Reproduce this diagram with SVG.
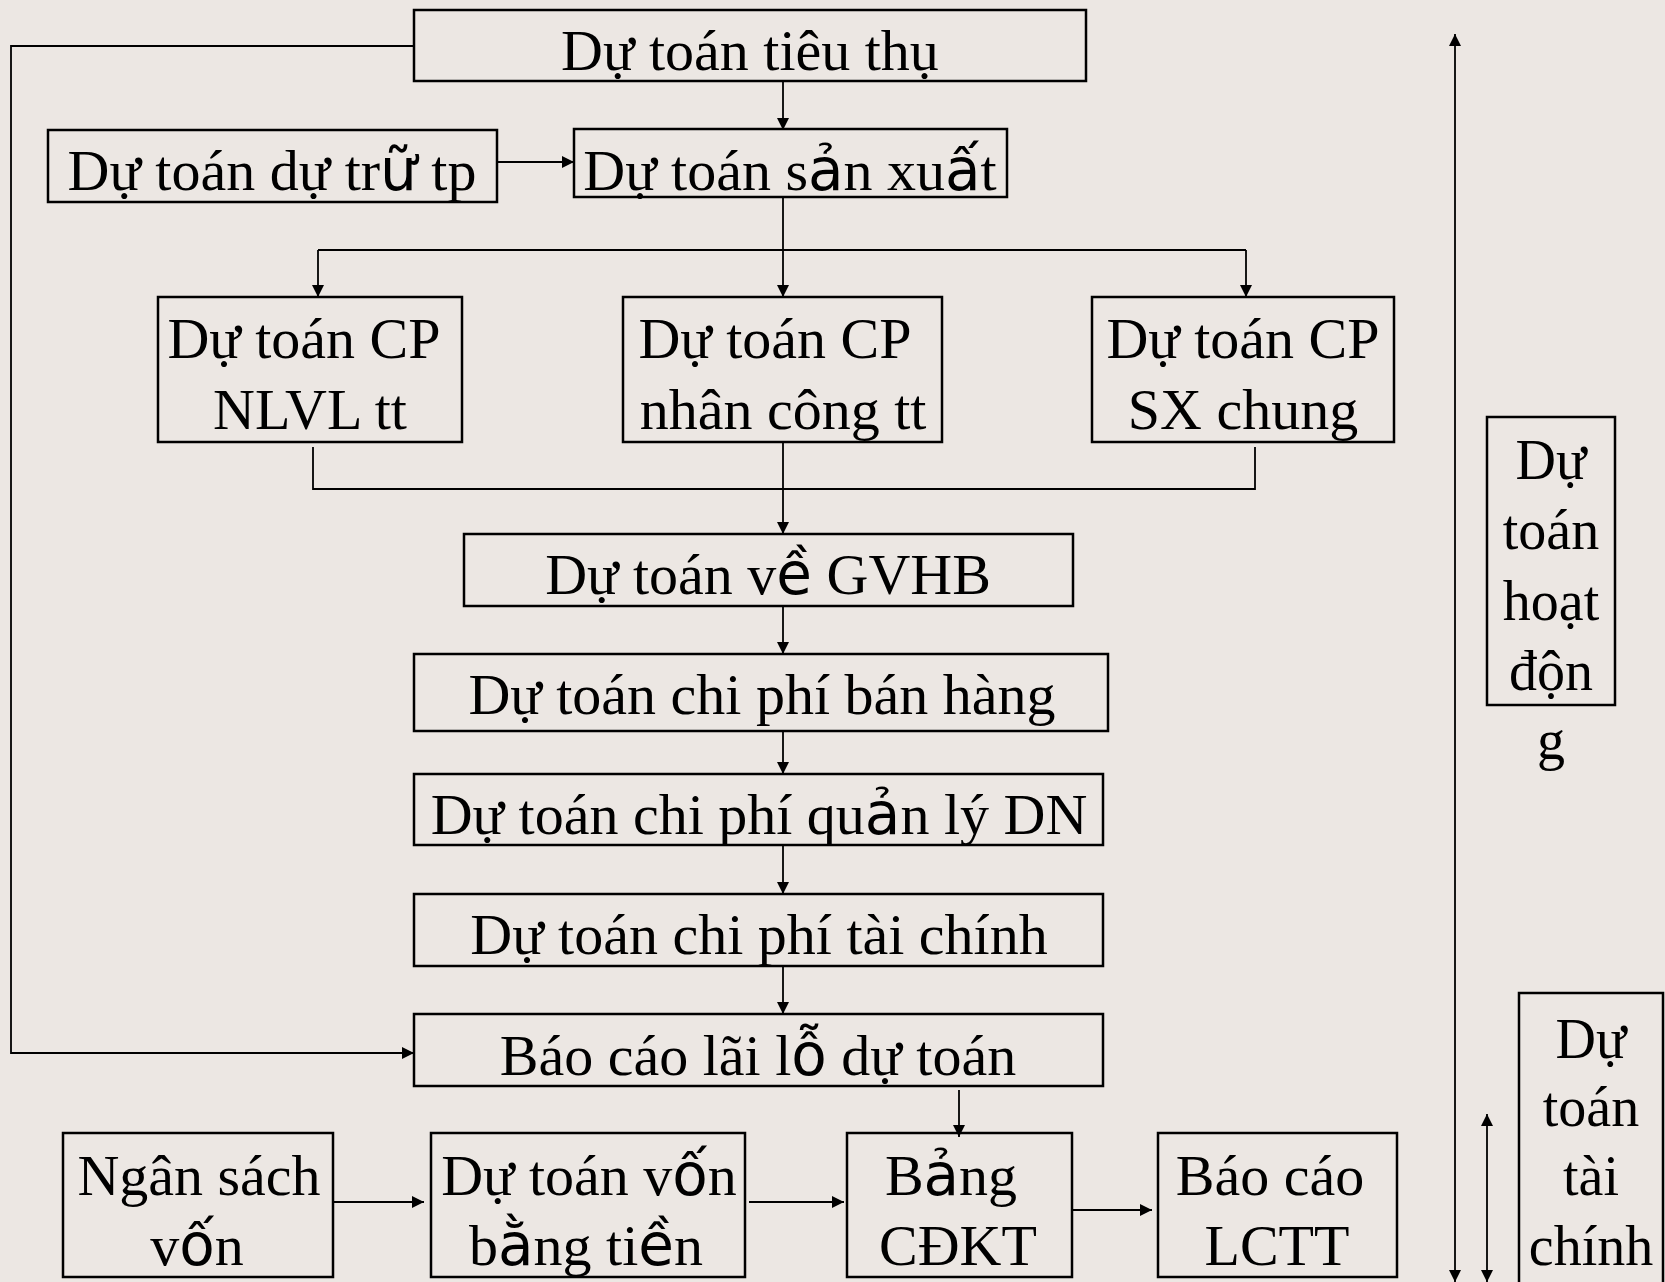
<svg xmlns="http://www.w3.org/2000/svg" width="1665" height="1282" viewBox="0 0 1665 1282">
<style>
.bg{fill:#ECE7E3}
.box{fill:none;stroke:#000;stroke-width:2.5}
.t{font-family:"Liberation Serif","Times New Roman",serif;font-size:58px;fill:#000;text-anchor:middle}
.ts{font-family:"Liberation Serif","Times New Roman",serif;font-size:56px;fill:#000;text-anchor:middle}
.s{font-family:"DejaVu Sans",sans-serif}
.c{fill:none;stroke:#000;stroke-width:1.8}
</style>
<defs>
<marker id="ah" markerWidth="12" markerHeight="12" refX="12" refY="6" orient="auto-start-reverse" markerUnits="userSpaceOnUse">
<path d="M0,0 L12,6 L0,12 z" fill="#000"/>
</marker>
</defs>
<rect class="bg" x="0" y="0" width="1665" height="1282"/>

<g id="connectors">
<path class="c" d="M414,46 H11 V1053 H414" marker-end="url(#ah)"/>
<path class="c" d="M783,81 V130" marker-end="url(#ah)"/>
<path class="c" d="M497,162 H574" marker-end="url(#ah)"/>
<path class="c" d="M783,198 V297" marker-end="url(#ah)"/>
<path class="c" d="M318,250 H1246"/>
<path class="c" d="M318,250 V297" marker-end="url(#ah)"/>
<path class="c" d="M1246,250 V297" marker-end="url(#ah)"/>
<path class="c" d="M313,447 V489 H1255 V447"/>
<path class="c" d="M783,442 V534" marker-end="url(#ah)"/>
<path class="c" d="M783,606 V654" marker-end="url(#ah)"/>
<path class="c" d="M783,731 V774" marker-end="url(#ah)"/>
<path class="c" d="M783,845 V894" marker-end="url(#ah)"/>
<path class="c" d="M783,966 V1014" marker-end="url(#ah)"/>
<path class="c" d="M959,1090 V1137" marker-end="url(#ah)"/>
<path class="c" d="M333,1202 H424" marker-end="url(#ah)"/>
<path class="c" d="M749,1202 H844" marker-end="url(#ah)"/>
<path class="c" d="M1072,1210 H1152" marker-end="url(#ah)"/>
<path class="c" d="M1455,34 V1282" stroke-width="2.5" marker-start="url(#ah)" marker-end="url(#ah)"/>
<path class="c" d="M1487,1114 V1282" stroke-width="2.5" marker-start="url(#ah)" marker-end="url(#ah)"/>
</g>

<g id="n-tieuthu"><rect class="box" x="414" y="10" width="672" height="71"/><text class="t" x="750" y="70">Dự toán tiêu thụ</text></g>
<g id="n-dutru"><rect class="box" x="48" y="130" width="449" height="72"/><text class="t" x="272" y="190">Dự toán dự tr<tspan class="s">ữ</tspan> tp</text></g>
<g id="n-sanxuat"><rect class="box" x="574" y="129" width="433" height="68"/><text class="t" x="790" y="190">Dự toán s<tspan class="s">ả</tspan>n xu<tspan class="s">ấ</tspan>t</text></g>
<g id="n-nlvl"><rect class="box" x="158" y="297" width="304" height="145"/><text class="t" x="304" y="358">Dự toán CP</text><text class="t" x="310" y="429">NLVL tt</text></g>
<g id="n-nhancong"><rect class="box" x="623" y="297" width="319" height="145"/><text class="t" x="775" y="358">Dự toán CP</text><text class="t" x="783" y="429">nhân công tt</text></g>
<g id="n-sxchung"><rect class="box" x="1092" y="297" width="302" height="145"/><text class="t" x="1243" y="358">Dự toán CP</text><text class="t" x="1243" y="429">SX chung</text></g>
<g id="n-gvhb"><rect class="box" x="464" y="534" width="609" height="72"/><text class="t" x="768" y="594">Dự toán v<tspan class="s">ề</tspan> GVHB</text></g>
<g id="n-banhang"><rect class="box" x="414" y="654" width="694" height="77"/><text class="t" x="762" y="714">Dự toán chi phí bán hàng</text></g>
<g id="n-quanly"><rect class="box" x="414" y="774" width="689" height="71"/><text class="t" x="759" y="834">Dự toán chi phí qu<tspan class="s">ả</tspan>n lý DN</text></g>
<g id="n-taichinh"><rect class="box" x="414" y="894" width="689" height="72"/><text class="t" x="759" y="954">Dự toán chi phí tài chính</text></g>
<g id="n-laiLo"><rect class="box" x="414" y="1014" width="689" height="72"/><text class="t" x="758" y="1075">Báo cáo lãi l<tspan class="s">ỗ</tspan> dự toán</text></g>
<g id="n-ngansach"><rect class="box" x="63" y="1133" width="270" height="144"/><text class="t" x="199" y="1195">Ngân sách</text><text class="t" x="197" y="1265">v<tspan class="s">ố</tspan>n</text></g>
<g id="n-vonbangtien"><rect class="box" x="431" y="1133" width="314" height="144"/><text class="t" x="589" y="1195">Dự toán v<tspan class="s">ố</tspan>n</text><text class="t" x="586" y="1265">b<tspan class="s">ằ</tspan>ng ti<tspan class="s">ề</tspan>n</text></g>
<g id="n-cdkt"><rect class="box" x="847" y="1133" width="225" height="144"/><text class="t" x="951" y="1195">B<tspan class="s">ả</tspan>ng</text><text class="t" x="958" y="1265">CĐKT</text></g>
<g id="n-lctt"><rect class="box" x="1158" y="1133" width="239" height="144"/><text class="t" x="1270" y="1195">Báo cáo</text><text class="t" x="1277" y="1265">LCTT</text></g>
<g id="n-hoatdong"><rect class="box" x="1487" y="417" width="128" height="288"/><text class="ts" x="1551" y="479">Dự</text><text class="ts" x="1551" y="549">toán</text><text class="ts" x="1551" y="620">hoạt</text><text class="ts" x="1551" y="690">độn</text><text class="ts" x="1551" y="759">g</text></g>
<g id="n-tcdutoan"><rect class="box" x="1519" y="993" width="144" height="300"/><text class="ts" x="1591" y="1058">Dự</text><text class="ts" x="1591" y="1126">toán</text><text class="ts" x="1591" y="1195">tài</text><text class="ts" x="1591" y="1265">chính</text></g>
</svg>
